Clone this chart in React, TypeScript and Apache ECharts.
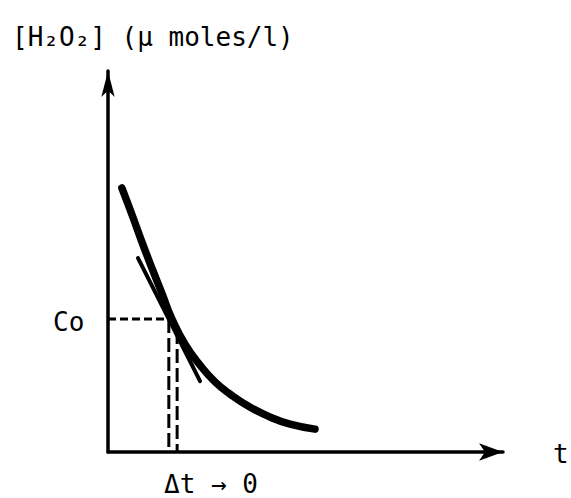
import React, { useEffect, useRef } from "react";
import * as echarts from "echarts";

// Concentration curve [H2O2] vs t (arbitrary units)
const curveT = [3.5, 6.1, 8.6, 11.1, 13.7, 16.2, 19.5, 23.3, 27.1, 30.9, 35.9, 41.0, 46.1, 52.4];
const curveC = [69.3, 62.2, 55.1, 48.3, 41.5, 34.9, 28.3, 22.8, 18.4, 15.2, 11.8, 9.2, 7.3, 6.0];

// Tangent line at the point (t0, Co)
const tangentT = [7.6, 23.3];
const tangentC = [50.9, 18.6];

// Point of tangency
const t0 = 16.2;
const Co = 34.9;

// Δt interval boundaries
const dtLeft = 15.4;
const dtRight = 17.5;
const dtRightTop = 32;

const FONT = "'DejaVu Sans Mono', 'Liberation Mono', monospace";

export default function App() {
  const ref = useRef<HTMLDivElement>(null);

  useEffect(() => {
    if (!ref.current) return;
    const chart = echarts.init(ref.current, null, { renderer: "svg" });

    const textStyle = (text: string, x: number, y: number, align = "left") => ({
      type: "text",
      x,
      y,
      style: {
        text,
        font: `26px ${FONT}`,
        fill: "#000",
        align,
        verticalAlign: "middle",
        textAlign: align,
        textVerticalAlign: "middle",
      },
    });

    chart.setOption({
      animation: false,
      backgroundColor: "#fff",
      grid: { left: 108, top: 71, right: 68, bottom: 46 },
      xAxis: {
        type: "value",
        min: 0,
        max: 100,
        axisLine: {
          show: true,
          symbol: ["none", "arrow"],
          symbolSize: [13, 24],
          lineStyle: { color: "#000", width: 3.5 },
        },
        axisTick: { show: false },
        axisLabel: { show: false },
        splitLine: { show: false },
      },
      yAxis: {
        type: "value",
        min: 0,
        max: 100,
        axisLine: {
          show: true,
          symbol: ["none", "arrow"],
          symbolSize: [10, 26],
          lineStyle: { color: "#000", width: 3.5 },
        },
        axisTick: { show: false },
        axisLabel: { show: false },
        splitLine: { show: false },
      },
      series: [
        {
          type: "line",
          data: curveT.map((t, i) => [t, curveC[i]]),
          smooth: 0.5,
          showSymbol: false,
          lineStyle: { color: "#000", width: 7.5, cap: "round", join: "round" },
          z: 5,
        },
        {
          type: "line",
          data: tangentT.map((t, i) => [t, tangentC[i]]),
          showSymbol: false,
          lineStyle: { color: "#000", width: 4, cap: "round" },
          z: 4,
        },
        {
          type: "line",
          data: [
            [0, Co],
            [t0, Co],
          ],
          showSymbol: false,
          lineStyle: { color: "#000", width: 3, type: [8, 4] },
        },
        {
          type: "line",
          data: [
            [dtLeft, Co],
            [dtLeft, 0],
          ],
          showSymbol: false,
          lineStyle: { color: "#000", width: 3, type: [14, 5] },
        },
        {
          type: "line",
          data: [
            [dtRight, dtRightTop],
            [dtRight, 0],
          ],
          showSymbol: false,
          lineStyle: { color: "#000", width: 3, type: [14, 5] },
        },
      ],
      graphic: [
        textStyle("[H₂O₂] (μ moles/l)", 12, 37),
        textStyle("Co", 53, 322),
        textStyle("t", 553, 454),
        textStyle("Δt → 0", 164, 484),
      ],
    });

    return () => chart.dispose();
  }, []);

  return (
    <div
      ref={ref}
      style={{ position: "fixed", left: 0, top: 0, width: 571, height: 498, background: "#fff" }}
    />
  );
}
